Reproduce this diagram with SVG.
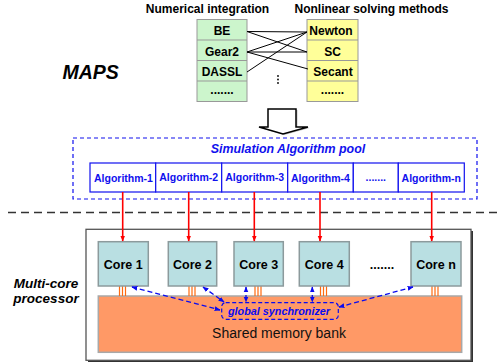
<svg xmlns="http://www.w3.org/2000/svg" width="498" height="364" viewBox="0 0 498 364">
<defs>
<style>
.t{font-family:"Liberation Sans",Arial,sans-serif;font-weight:bold;fill:#000}
.bi{font-family:"Liberation Sans",Arial,sans-serif;font-weight:bold;font-style:italic}
.cell{stroke:#999;stroke-width:1}
.alg{fill:#fff;stroke:#1010ee;stroke-width:1.2}
.algt{font-family:"Liberation Sans",Arial,sans-serif;font-weight:bold;font-size:10.5px;fill:#1010ee;text-anchor:middle}
.core{fill:#b9dfe2;stroke:#8c9a9c;stroke-width:1.5}
.coret{font-family:"Liberation Sans",Arial,sans-serif;font-weight:bold;font-size:12.5px;fill:#000;text-anchor:middle}
.pin{stroke:#ff6a10;stroke-width:1.2}
.red{stroke:#ff0000;stroke-width:1.6;fill:none;marker-end:url(#ra)}
.blu{stroke:#0a0af0;stroke-width:1.3;fill:none;stroke-dasharray:5,3;marker-start:url(#ba);marker-end:url(#ba)}
.lnk{stroke:#000;stroke-width:1;fill:none}
</style>
<marker id="ra" viewBox="0 0 10 10" refX="9" refY="5" markerWidth="6" markerHeight="6" orient="auto" markerUnits="userSpaceOnUse">
<path d="M0,1 L10,5 L0,9 z" fill="#ff0000"/>
</marker>
<marker id="ba" viewBox="0 0 10 10" refX="9" refY="5" markerWidth="6" markerHeight="6" orient="auto-start-reverse" markerUnits="userSpaceOnUse">
<path d="M0,1 L10,5 L0,9 z" fill="#0a0af0"/>
</marker>
</defs>
<rect width="498" height="364" fill="#fff"/>

<text class="t" x="207.5" y="12.5" font-size="12" text-anchor="middle">Numerical integration</text>
<text class="t" x="371.5" y="12.5" font-size="12" text-anchor="middle">Nonlinear solving methods</text>

<g id="numerical-integration">
<rect class="cell" x="197" y="19.5" width="50" height="82" fill="#ccf5cc"/>
<line class="cell" x1="197" y1="40" x2="247" y2="40"/>
<line class="cell" x1="197" y1="60.5" x2="247" y2="60.5"/>
<line class="cell" x1="197" y1="81" x2="247" y2="81"/>
<text class="t" x="222" y="35" font-size="12" text-anchor="middle">BE</text>
<text class="t" x="222" y="55.5" font-size="12" text-anchor="middle">Gear2</text>
<text class="t" x="222" y="76" font-size="12" text-anchor="middle">DASSL</text>
<text class="t" x="222" y="94" font-size="12" text-anchor="middle">.......</text>
</g>

<g id="nonlinear-solving">
<rect class="cell" x="307" y="19.5" width="51" height="82" fill="#ffff99"/>
<line class="cell" x1="307" y1="40" x2="358" y2="40"/>
<line class="cell" x1="307" y1="60.5" x2="358" y2="60.5"/>
<line class="cell" x1="307" y1="81" x2="358" y2="81"/>
<text class="t" x="331" y="35" font-size="12" text-anchor="middle">Newton</text>
<text class="t" x="332.5" y="55.5" font-size="12" text-anchor="middle">SC</text>
<text class="t" x="333" y="76" font-size="12" text-anchor="middle">Secant</text>
<text class="t" x="332.5" y="94" font-size="12" text-anchor="middle">.......</text>
</g>

<g id="combinations">
<line class="lnk" x1="247" y1="31.5" x2="307" y2="32"/>
<line class="lnk" x1="247" y1="31.5" x2="307" y2="52"/>
<line class="lnk" x1="247" y1="52" x2="307" y2="32"/>
<line class="lnk" x1="247" y1="52" x2="307" y2="52"/>
<line class="lnk" x1="247" y1="52" x2="308" y2="69"/>
<line class="lnk" x1="247" y1="72" x2="307" y2="32"/>
<g fill="#000"><circle cx="278" cy="76" r="0.9"/><circle cx="278" cy="79.5" r="0.9"/><circle cx="278" cy="83" r="0.9"/></g>
</g>

<text class="bi" x="62.5" y="78.5" font-size="19.5" fill="#000">MAPS</text>

<g id="block-arrow">
<polygon points="269.5,110 297.5,110 297.5,128 309.5,128 284.5,135 260.5,128 269.5,128" fill="#888" opacity="0.5"/>
<polygon points="268,109 296,109 296,127 308,127 283,134 259,127 268,127" fill="#fff" stroke="#000" stroke-width="1.5" stroke-linejoin="miter"/>
</g>

<g id="algorithm-pool">
<rect x="73" y="138" width="404" height="61" fill="none" stroke="#1010ee" stroke-width="1.2" stroke-dasharray="4,3"/>
<text class="bi" x="288" y="153" font-size="12.4" fill="#1010ee" text-anchor="middle">Simulation Algorithm pool</text>
<rect class="alg" x="90" y="163" width="65.7" height="29"/>
<rect class="alg" x="155.7" y="163" width="66" height="29"/>
<rect class="alg" x="221.7" y="163" width="66" height="29"/>
<rect class="alg" x="287.7" y="163" width="65.6" height="29"/>
<rect class="alg" x="353.3" y="163" width="45" height="29"/>
<rect class="alg" x="398.3" y="163" width="66" height="29"/>
<text class="algt" x="123.5" y="181.5">Algorithm-1</text>
<text class="algt" x="188.7" y="181">Algorithm-2</text>
<text class="algt" x="254.7" y="181">Algorithm-3</text>
<text class="algt" x="320.5" y="181.5">Algorithm-4</text>
<text class="algt" x="375.8" y="181">.......</text>
<text class="algt" x="431.3" y="181.5">Algorithm-n</text>
</g>

<line x1="8" y1="212.5" x2="498" y2="212.5" stroke="#333" stroke-width="1.3" stroke-dasharray="8,5"/>

<g id="multicore-processor">
<rect x="88" y="231" width="385" height="131" fill="#333"/>
<rect x="86" y="229.3" width="385" height="131" fill="#fff" stroke="#555" stroke-width="1.3"/>
</g>

<text class="bi" font-size="13.5" fill="#000" text-anchor="middle"><tspan x="46" y="288">Multi-core</tspan><tspan x="46" y="303">processor</tspan></text>

<g id="shared-memory">
<rect x="98.3" y="296" width="363.4" height="56.3" fill="#ff9966" stroke="#a8a8a8" stroke-width="1.5"/>
<text x="279" y="338" font-family="Liberation Sans, Arial, sans-serif" font-size="14" fill="#111" text-anchor="middle">Shared memory bank</text>
</g>

<g id="pins">
<path class="pin" d="M119.5,286v10M122.5,286v10M125.5,286v10M189,286v10M192,286v10M195,286v10M255,286v10M258,286v10M261,286v10M320.5,286v10M323.5,286v10M326.5,286v10M432,286v10M435,286v10M438,286v10"/>
</g>

<g id="core-1"><rect class="core" x="98.3" y="241.7" width="50" height="44.3"/><text class="coret" x="123.3" y="269">Core 1</text></g>
<g id="core-2"><rect class="core" x="168.3" y="241.7" width="48.4" height="44.3"/><text class="coret" x="192.5" y="269">Core 2</text></g>
<g id="core-3"><rect class="core" x="234" y="241.7" width="49.3" height="44.3"/><text class="coret" x="258.7" y="269">Core 3</text></g>
<g id="core-4"><rect class="core" x="299.3" y="241.7" width="50" height="44.3"/><text class="coret" x="324.3" y="269">Core 4</text></g>
<text class="coret" x="382" y="269">.......</text>
<g id="core-n"><rect class="core" x="411" y="241.7" width="50" height="44.3"/><text class="coret" x="436" y="269">Core n</text></g>

<g id="global-synchronizer">
<rect x="221.7" y="302.7" width="116.6" height="16.6" rx="4" fill="none" stroke="#0a0af0" stroke-width="1.2" stroke-dasharray="4,2.5"/>
<text class="bi" x="279" y="315" font-size="10.8" fill="#0a0af0" text-anchor="middle">global synchronizer</text>
</g>

<g id="connectors">
<line class="red" x1="122.7" y1="192" x2="122.7" y2="241"/>
<line class="red" x1="188.7" y1="192" x2="188.7" y2="241"/>
<line class="red" x1="254.3" y1="192" x2="254.3" y2="241"/>
<line class="red" x1="320" y1="192" x2="320" y2="241"/>
<line class="red" x1="431.7" y1="192" x2="431.7" y2="241"/>
<line class="blu" x1="132" y1="287" x2="220" y2="310"/>
<line class="blu" x1="203" y1="287" x2="224" y2="302"/>
<line class="blu" x1="246" y1="287" x2="246" y2="302"/>
<line class="blu" x1="312.3" y1="287" x2="312.3" y2="302"/>
<line class="blu" x1="413" y1="287" x2="339" y2="307"/>
</g>
</svg>
